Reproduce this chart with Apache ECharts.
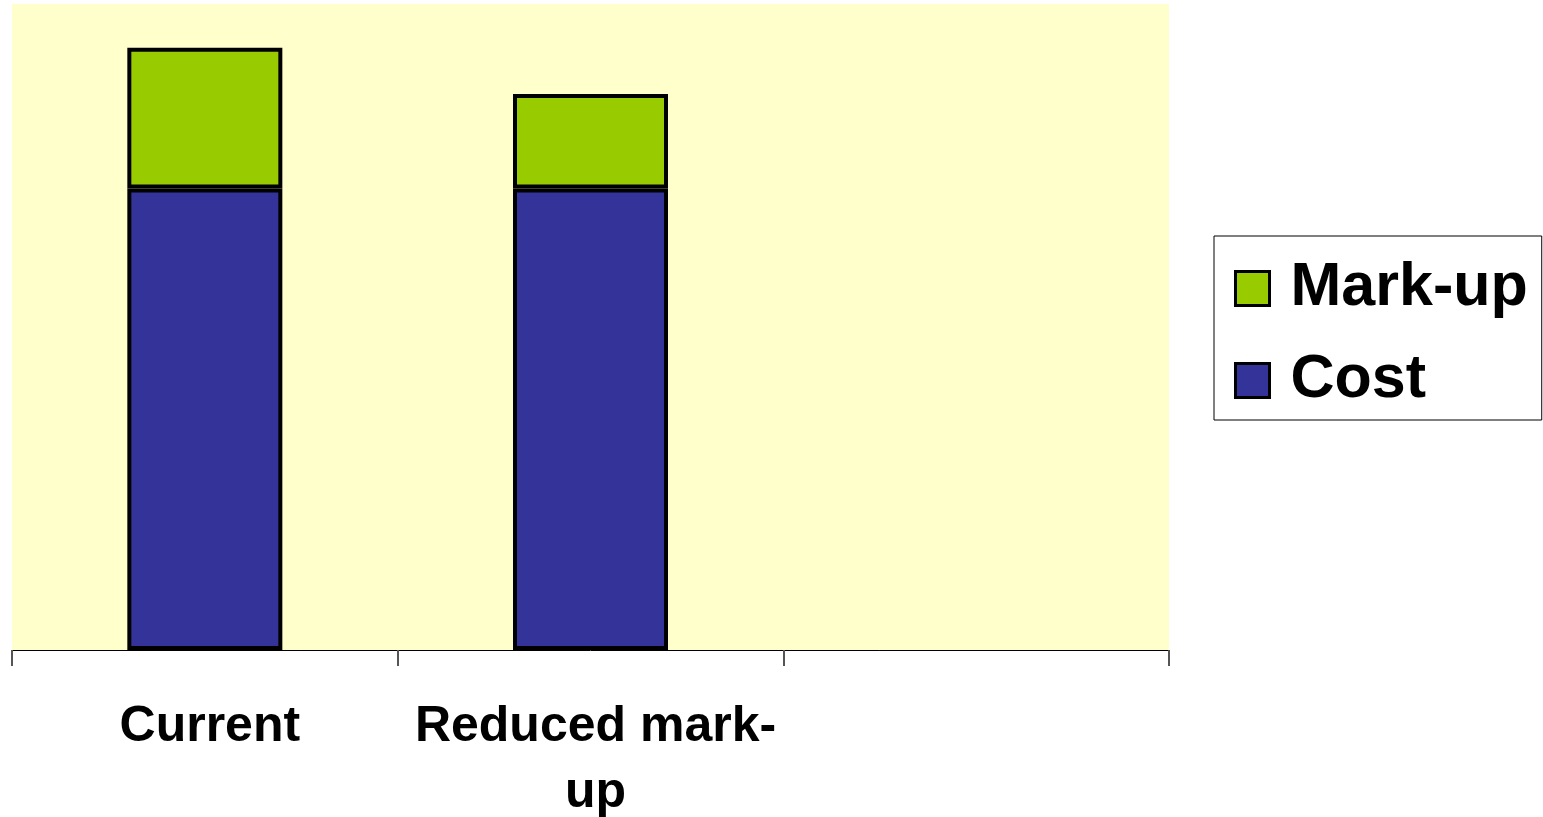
<!DOCTYPE html>
<html>
<head>
<meta charset="utf-8">
<script src="https://cdn.jsdelivr.net/npm/echarts@6/dist/echarts.min.js"></script>
<style>html,body{margin:0;padding:0;background:#fff;}#c{width:1543px;height:817px;}</style>
</head>
<body>
<div id="c"></div>
<script>
const categories = ['Current', 'Reduced mark-\nup', ''];
const costValues = [100, 100, null];
const markupValues = [30.5, 20.5, null];

const chart = echarts.init(document.getElementById('c'), null, {renderer: 'canvas'});
const font = '"Liberation Sans", Arial, sans-serif';
chart.setOption({
  animation: false,
  backgroundColor: '#ffffff',
  grid: {
    left: 12, right: 374, top: 4, bottom: 167,
    containLabel: false, outerBoundsMode: 'none',
    show: true, backgroundColor: '#FFFFCC', borderWidth: 0
  },
  legend: {
    data: ['Mark-up', 'Cost'],
    orient: 'vertical',
    left: 1214, top: 236,
    padding: [22, 14, 9, 20],
    backgroundColor: '#ffffff',
    borderColor: '#000000',
    borderWidth: 1,
    borderRadius: 0,
    itemWidth: 34, itemHeight: 34,
    itemGap: 31,
    icon: 'rect',
    selectedMode: false,
    itemStyle: {borderColor: '#000', borderWidth: 3},
    textStyle: {
      fontFamily: font, fontWeight: 'bold', fontSize: 61, color: '#000',
      lineHeight: 60, padding: [0, 0, 0, 16]
    }
  },
  xAxis: {
    type: 'category',
    data: categories,
    boundaryGap: true,
    axisLine: {show: true, lineStyle: {color: '#000', width: 1}},
    axisTick: {show: true, length: 16, lineStyle: {color: '#555', width: 2}},
    axisLabel: {
      interval: 0, margin: 44,
      fontFamily: font, fontWeight: 'bold', fontSize: 50, color: '#000',
      lineHeight: 66, padding: [0, 0, 0, 10]
    }
  },
  yAxis: {
    type: 'value', min: 0, max: 140, interval: 20,
    show: false,
    splitLine: {show: false}
  },
  series: [
    {
      name: 'Cost', type: 'bar', stack: 'total', data: costValues,
      barWidth: 155,
      itemStyle: {color: '#333399', borderColor: '#000', borderWidth: 4}
    },
    {
      name: 'Mark-up', type: 'bar', stack: 'total', data: markupValues,
      barWidth: 155,
      itemStyle: {color: '#99CC00', borderColor: '#000', borderWidth: 4}
    }
  ]
});
</script>
</body>
</html>
